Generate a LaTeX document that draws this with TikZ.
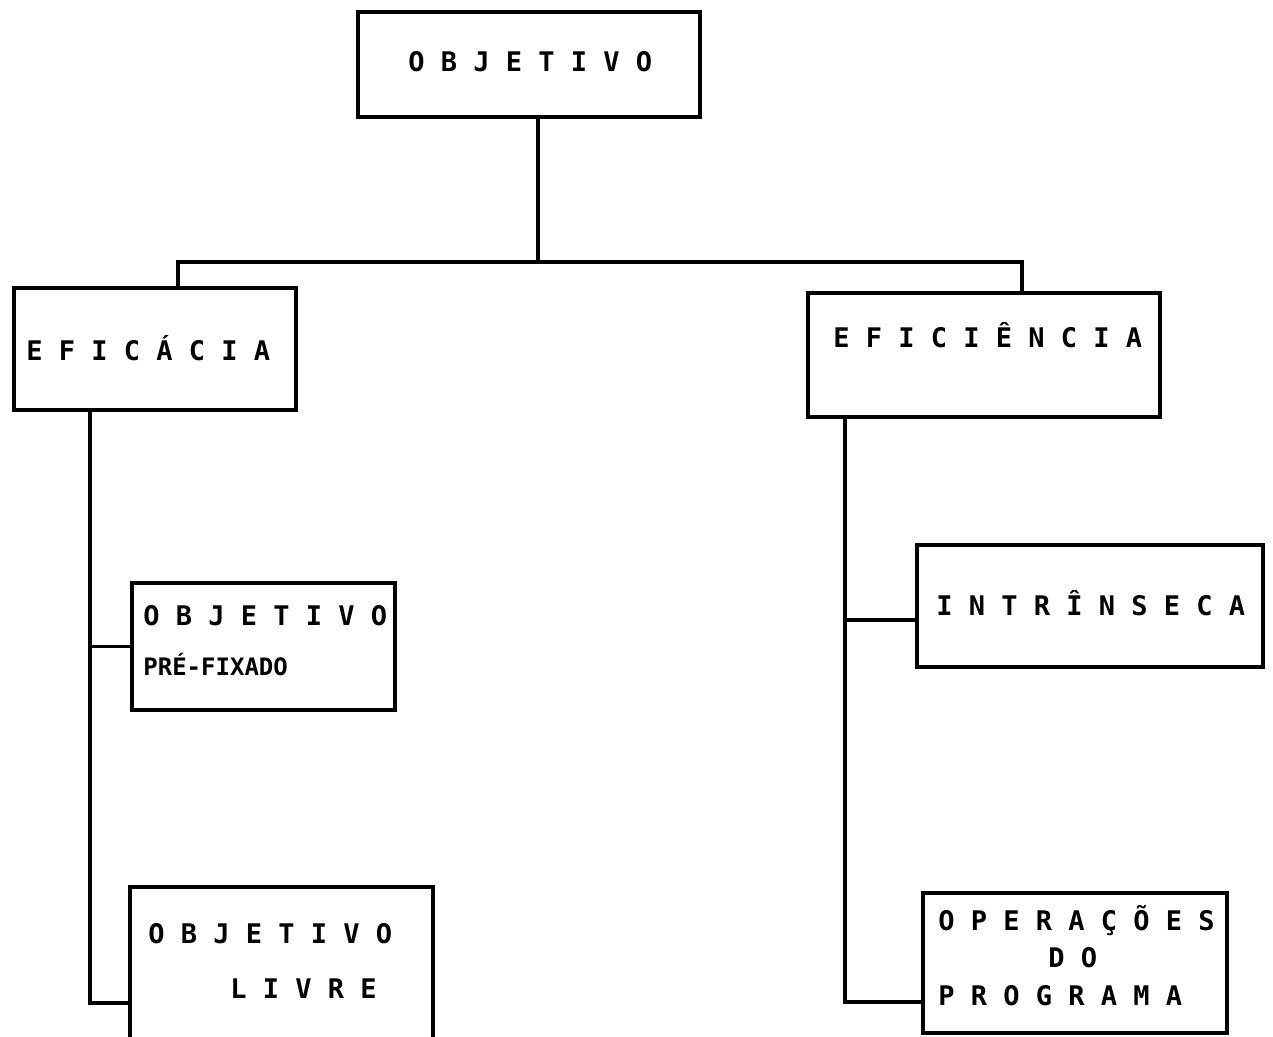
\documentclass[tikz,border=0pt]{standalone}
\usepackage{fontspec}
\newfontfamily\typewriterfont{DejaVu Sans Mono}
\begin{document}
\begin{tikzpicture}[x=0.5pt,y=-0.5pt,
  box/.style 2 args={draw, line width=1.8pt, rectangle, inner sep=0pt,
    minimum width=#1*0.5pt, minimum height=#2*0.5pt},
  lbl/.style={anchor=base west, inner sep=0pt, font=\typewriterfont\bfseries\fontsize{13.5pt}{16pt}\selectfont},
  small/.style={anchor=base west, inner sep=0pt, font=\typewriterfont\bfseries\fontsize{12pt}{14pt}\selectfont},
  conn/.style={line width=1.8pt}]
\useasboundingbox (0,0) rectangle (1273,1037);
% boxes
\node[box={342}{105}] (obj) at (529,64.5) {};
\node[box={282}{122}] (efa) at (155,349) {};
\node[box={352}{124}] (efi) at (984,355) {};
\node[box={263}{127}] (pre) at (263.5,646.5) {};
\node[box={303}{173}] (livre) at (281.5,973.5) {};
\node[box={346}{122}] (intr) at (1090,606) {};
\node[box={304}{140}] (oper) at (1075,963) {};
% texts
\node[lbl] (tobj) at (408,72) {O B J E T I V O};
\node[lbl] (tefa) at (26,360) {E F I C Á C I A};
\node[lbl] (tefi) at (833,348) {E F I C I Ê N C I A};
\node[lbl] (tpre1) at (143,625) {O B J E T I V O};
\node[small] (tpre2) at (143,675) {PRÉ-FIXADO};
\node[lbl] (tliv1) at (148,943) {O B J E T I V O};
\node[lbl] (tliv2) at (230,998) {L I V R E};
\node[lbl] (tintr) at (936,615) {I N T R Î N S E C A};
\node[lbl] (tope1) at (938,930) {O P E R A Ç Õ E S};
\node[lbl] (tope2) at (1048,967) {D O};
\node[lbl] (tope3) at (938,1005) {P R O G R A M A};
% connectors
\coordinate (j) at (538,262);
\coordinate (jl) at (178,262);
\coordinate (jr) at (1022,262);
\draw[conn] (obj.south -| j) -- (j);
\draw[conn] (jl |- efa.north) -- (jl) -- (jr) -- (jr |- efi.north);
\coordinate (tl) at (90,1003);
\draw[conn] (tl |- efa.south) -- (tl) -- (tl -| livre.west);
\draw[conn] (tl |- pre.west) -- (pre.west);
\coordinate (tr) at (845,1002);
\coordinate (ti) at (845,620);
\draw[conn] (tr |- efi.south) -- (tr) -- (tr -| oper.west);
\draw[conn] (ti) -- (ti -| intr.west);
\end{tikzpicture}
\end{document}
